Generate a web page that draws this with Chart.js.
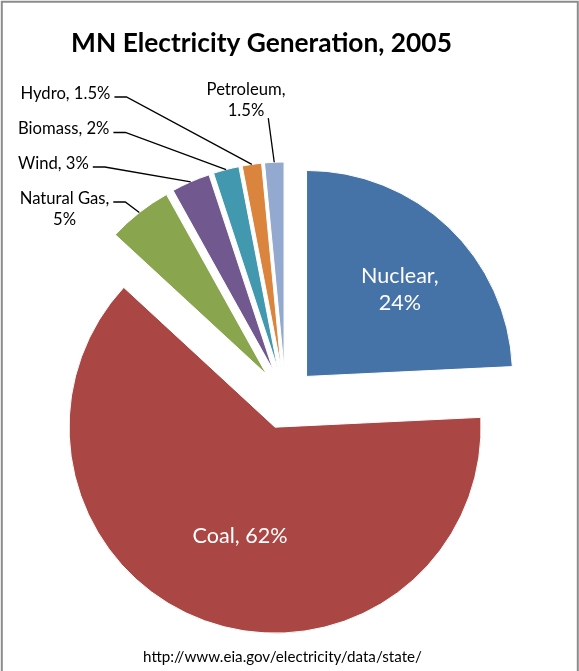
<!DOCTYPE html>
<html>
<head>
<meta charset="utf-8">
<script src="https://cdn.jsdelivr.net/npm/chart.js@4.4.1/dist/chart.umd.min.js"></script>
<style>
  html, body { margin: 0; padding: 0; background: #ffffff; }
  canvas { display: block; }
</style>
</head>
<body>
<canvas id="chart" width="579" height="671"></canvas>
<script>
// ---- data ----
const categories = ['Nuclear', 'Coal', 'Natural Gas', 'Wind', 'Biomass', 'Hydro', 'Petroleum'];
const shares = [24, 62, 5, 3, 2, 1.5, 1.5];
const sliceColors = ['#4572A7', '#AA4643', '#89A54E', '#71588F', '#4198AF', '#DB843D', '#93A9CF'];
const titleText = 'MN Electricity Generation, 2005';
const sourceText = 'http://www.eia.gov/electricity/data/state/';

// ---- layout / style (not data) ----
const FONT = 'Lato, "Open Sans", "DejaVu Sans", sans-serif';
const labelLayout = [
  { inside: true, frac: 0.625, dx: 4.5, dy: 5, split: true },                  // Nuclear
  { inside: true, frac: 0.555, dx: 4, dy: 1, split: false },                   // Coal
  { x: 64.5, y: 203.5, align: 'center', split: true, leader: 'elbow' },        // Natural Gas
  { x: 18, y: 168.5, align: 'left', split: false, leader: 'elbow' },           // Wind
  { x: 18, y: 134, align: 'left', split: false, leader: 'elbow' },             // Biomass
  { x: 20.5, y: 98.5, align: 'left', split: false, leader: 'elbow' },          // Hydro
  { x: 246, y: 95, align: 'center', split: true, leader: 'straight' }          // Petroleum
];

function fitSize(ctx, text, weight, targetWidth) {
  ctx.save();
  ctx.font = weight + ' 100px ' + FONT;
  const w = ctx.measureText(text).width;
  ctx.restore();
  return 100 * targetWidth / w;
}

function labelLines(i, split) {
  const t = categories[i] + ',';
  const v = shares[i] + '%';
  return split ? [t, v] : [t + ' ' + v];
}

const explodePlugin = {
  id: 'explode',
  afterUpdate(chart, args, opts) {
    const meta = chart.getDatasetMeta(0);
    const ca = chart.chartArea;
    const ctrl = meta.controller;
    const cx = (ca.left + ca.right) / 2 + (ctrl.offsetX || 0);
    const cy = (ca.top + ca.bottom) / 2 + (ctrl.offsetY || 0);
    meta.data.forEach(arc => {
      const mid = (arc.startAngle + arc.endAngle) / 2;
      arc.x = cx + Math.cos(mid) * opts.distance;
      arc.y = cy + Math.sin(mid) * opts.distance;
    });
  }
};

const decorPlugin = {
  id: 'decor',
  afterDraw(chart, args, opts) {
    const ctx = chart.ctx;
    ctx.save();

    // frame
    ctx.strokeStyle = opts.frameColor;
    ctx.lineWidth = 2;
    ctx.beginPath();
    ctx.moveTo(1.8, chart.height + 10);
    ctx.lineTo(1.8, 1.8);
    ctx.lineTo(577.8, 1.8);
    ctx.lineTo(577.8, chart.height + 10);
    ctx.stroke();

    // title
    const tSize = fitSize(ctx, titleText, 'bold', opts.titleWidth);
    ctx.font = 'bold ' + tSize + 'px ' + FONT;
    ctx.fillStyle = '#000';
    ctx.textAlign = 'center';
    ctx.textBaseline = 'alphabetic';
    ctx.fillText(titleText, opts.titleX, opts.titleY);

    // source
    const sSize = fitSize(ctx, sourceText, 'normal', opts.sourceWidth);
    ctx.font = sSize + 'px ' + FONT;
    ctx.fillText(sourceText, opts.sourceX, opts.sourceY);

    // slice labels
    const meta = chart.getDatasetMeta(0);
    const outSize = fitSize(ctx, labelLines(5, false)[0], 'normal', opts.outerRefWidth);
    const inSize = fitSize(ctx, labelLines(1, false)[0], 'normal', opts.innerRefWidth);

    meta.data.forEach((arc, i) => {
      const L = labelLayout[i];
      const lines = labelLines(i, L.split);
      const mid = (arc.startAngle + arc.endAngle) / 2;
      if (L.inside) {
        const d = arc.outerRadius * L.frac;
        const px = arc.x + Math.cos(mid) * d + L.dx;
        const py = arc.y + Math.sin(mid) * d + L.dy;
        ctx.font = inSize + 'px ' + FONT;
        ctx.fillStyle = '#ffffff';
        ctx.textAlign = 'center';
        const lh = inSize * 1.25;
        const capH = inSize * 0.72;
        lines.forEach((ln, k) => {
          ctx.fillText(ln, px, py + capH / 2 + (k - (lines.length - 1) / 2) * lh);
        });
      } else {
        ctx.font = outSize + 'px ' + FONT;
        ctx.fillStyle = '#000000';
        ctx.textAlign = L.align;
        const lh = outSize * 1.27;
        const rights = [];
        lines.forEach((ln, k) => {
          const by = L.y + k * lh;
          ctx.fillText(ln, L.x, by);
          const w = ctx.measureText(ln).width;
          rights.push({ r: L.align === 'center' ? L.x + w / 2 : L.x + w, y: by });
        });
        // leader line to the slice's outer edge
        const ex = arc.x + Math.cos(mid) * arc.outerRadius;
        const ey = arc.y + Math.sin(mid) * arc.outerRadius;
        ctx.strokeStyle = '#000000';
        ctx.lineWidth = 1.3;
        ctx.beginPath();
        if (L.leader === 'elbow') {
          const sx = rights[0].r + 4, sy = rights[0].y - 1.5;
          ctx.moveTo(sx, sy);
          ctx.lineTo(sx + 12, sy);
          ctx.lineTo(ex, ey);
        } else {
          const last = rights[rights.length - 1];
          ctx.moveTo(last.r + 4, last.y + 2);
          ctx.lineTo(ex, ey);
        }
        ctx.stroke();
      }
    });
    ctx.restore();
  }
};

new Chart(document.getElementById('chart'), {
  type: 'pie',
  data: {
    labels: categories,
    datasets: [{
      data: shares,
      backgroundColor: sliceColors,
      borderColor: '#ffffff',
      borderWidth: 1
    }]
  },
  options: {
    responsive: false,
    animation: false,
    events: [],
    radius: 206,
    layout: { padding: { left: 0, right: 8, top: 126, bottom: 0 } },
    plugins: {
      legend: { display: false },
      tooltip: { enabled: false },
      title: { display: false },
      explode: { distance: 30.5 },
      decor: {
        frameColor: '#8c8c8c',
        titleX: 261.5, titleY: 52, titleWidth: 381,
        sourceX: 282.5, sourceY: 662, sourceWidth: 279,
        outerRefWidth: 90, innerRefWidth: 95
      }
    }
  },
  plugins: [explodePlugin, decorPlugin]
});
</script>
</body>
</html>
